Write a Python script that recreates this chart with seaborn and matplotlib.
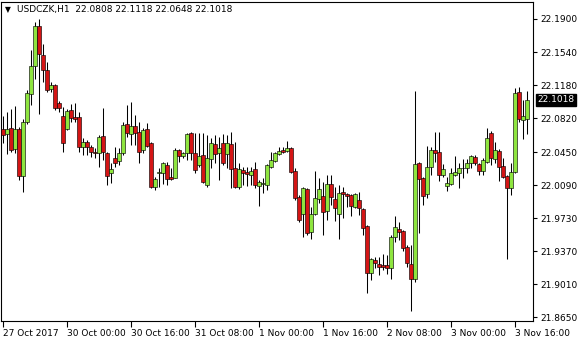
import numpy as np
import pandas as pd
import matplotlib
matplotlib.use("Agg")
import matplotlib.pyplot as plt
import matplotlib.transforms as mtrans
import seaborn as sns

symbol = "USDCZK,H1"

open_ = [22.0701, 22.0646, 22.0712, 22.0483, 22.0701, 22.0189, 22.0777, 22.1082, 22.1388, 22.1824,
         22.1508, 22.1344, 22.1137, 22.1181, 22.0984, 22.0843, 22.0701, 22.0908, 22.0832, 22.0832,
         22.0505, 22.0559, 22.0505, 22.0450, 22.0439, 22.0625, 22.0439, 22.0221, 22.0385, 22.0352,
         22.0439, 22.0755, 22.0646, 22.0734, 22.0668, 22.0472, 22.0701, 22.0548, 22.0069, 22.0221,
         22.0221, 22.0308, 22.0178, 22.0167, 22.0472, 22.0407, 22.0439, 22.0657, 22.0439, 22.0308,
         22.0417, 22.0091, 22.0374, 22.0537, 22.0439, 22.0548, 22.0428, 22.0537, 22.0276, 22.0069,
         22.0254, 22.0232, 22.0199, 22.0265, 22.0080, 22.0101, 22.0091, 22.0287, 22.0352, 22.0428,
         22.0472, 22.0461, 22.0494, 22.0243, 21.9960, 21.9774, 22.0047, 21.9578, 21.9774, 21.9938,
         21.9971, 21.9807, 22.0101, 21.9938, 21.9774, 22.0014, 21.9993, 21.9982, 21.9851, 21.9927,
         21.9829, 21.9644, 21.9131, 21.9273, 21.9229, 21.9218, 21.9218, 21.9186, 21.9524, 21.9611,
         21.9589, 21.9415, 21.9229, 21.9066, 22.0330, 22.0167, 21.9993, 22.0287, 22.0472, 22.0450,
         22.0199, 22.0080, 22.0101, 22.0199, 22.0221, 22.0276, 22.0276, 22.0330, 22.0396, 22.0319,
         22.0243, 22.0341, 22.0657, 22.0374, 22.0461, 22.0298, 22.0189, 22.0058, 22.0232, 22.1104,
         22.0799, 22.0808]
high = [22.0843, 22.0886, 22.0919, 22.0952, 22.0723, 22.0810, 22.1126, 22.1562, 22.1867, 22.1900,
        22.1627, 22.1431, 22.1213, 22.1191, 22.1006, 22.0941, 22.0919, 22.0973, 22.0984, 22.0886,
        22.0603, 22.0581, 22.0526, 22.0494, 22.0635, 22.0930, 22.0450, 22.0330, 22.0505, 22.0494,
        22.0777, 22.0962, 22.0995, 22.0854, 22.0777, 22.0712, 22.0766, 22.0559, 22.0178, 22.0276,
        22.0341, 22.0341, 22.0276, 22.0494, 22.0483, 22.0450, 22.0657, 22.0668, 22.0657, 22.0657,
        22.0657, 22.0635, 22.0603, 22.0635, 22.0614, 22.0646, 22.0635, 22.0668, 22.0559, 22.0330,
        22.0287, 22.0287, 22.0287, 22.0341, 22.0145, 22.0167, 22.0319, 22.0450, 22.0450, 22.0505,
        22.0505, 22.0570, 22.0505, 22.0276, 21.9982, 22.0069, 22.0058, 21.9851, 22.0243, 22.0167,
        22.0123, 22.0199, 22.0199, 22.0069, 22.0091, 22.0069, 22.0003, 21.9993, 22.0003, 22.0014,
        21.9840, 21.9655, 21.9295, 21.9306, 21.9306, 21.9338, 21.9327, 21.9546, 21.9753, 21.9687,
        21.9600, 21.9437, 21.9437, 22.1115, 22.0341, 22.0178, 22.0516, 22.0505, 22.0668, 22.0668,
        22.0319, 22.0178, 22.0276, 22.0407, 22.0330, 22.0374, 22.0374, 22.0417, 22.0417, 22.0330,
        22.0385, 22.0712, 22.0679, 22.0559, 22.0483, 22.0385, 22.0199, 22.0330, 22.1148, 22.1159,
        22.1017, 22.1118]
low = [22.0548, 22.0428, 22.0450, 22.0439, 22.0145, 22.0014, 22.0755, 22.0962, 22.1246, 22.0864,
       22.1213, 22.1104, 22.1104, 22.0908, 22.0886, 22.0450, 22.0690, 22.0777, 22.0777, 22.0450,
       22.0417, 22.0417, 22.0396, 22.0385, 22.0287, 22.0363, 22.0091, 22.0112, 22.0287, 22.0308,
       22.0417, 22.0614, 22.0526, 22.0526, 22.0330, 22.0439, 22.0505, 22.0058, 22.0036, 22.0069,
       22.0101, 22.0091, 22.0145, 22.0167, 22.0341, 22.0385, 22.0363, 22.0363, 22.0221, 22.0287,
       22.0112, 22.0069, 22.0276, 22.0330, 22.0145, 22.0308, 22.0276, 22.0058, 22.0058, 22.0047,
       22.0091, 22.0080, 22.0091, 22.0058, 21.9862, 22.0003, 22.0036, 22.0276, 22.0341, 22.0417,
       22.0439, 22.0450, 22.0221, 21.9927, 21.9687, 21.9524, 21.9546, 21.9502, 21.9764, 21.9894,
       21.9546, 21.9709, 21.9873, 21.9698, 21.9502, 21.9731, 21.9851, 21.9753, 21.9840, 21.9764,
       21.9546, 21.8913, 21.9055, 21.9186, 21.9109, 21.9164, 21.9120, 21.9066, 21.9469, 21.9491,
       21.9371, 21.9197, 21.8717, 21.9033, 21.9567, 21.9873, 21.9949, 22.0199, 22.0341, 22.0134,
       22.0178, 22.0025, 22.0091, 22.0189, 22.0058, 22.0167, 22.0221, 22.0276, 22.0308, 22.0199,
       22.0199, 22.0330, 22.0308, 22.0330, 22.0134, 22.0167, 21.9284, 21.9982, 22.0221, 22.0777,
       22.0592, 22.0648]
close = [22.0635, 22.0701, 22.0472, 22.0701, 22.0189, 22.0777, 22.1093, 22.1388, 22.1824, 22.1518,
         22.1344, 22.1126, 22.1181, 22.0930, 22.0930, 22.0548, 22.0897, 22.0821, 22.0810, 22.0505,
         22.0559, 22.0505, 22.0450, 22.0439, 22.0614, 22.0450, 22.0189, 22.0265, 22.0330, 22.0439,
         22.0744, 22.0657, 22.0734, 22.0657, 22.0450, 22.0690, 22.0516, 22.0069, 22.0156, 22.0232,
         22.0330, 22.0156, 22.0156, 22.0472, 22.0407, 22.0439, 22.0646, 22.0439, 22.0254, 22.0407,
         22.0123, 22.0385, 22.0548, 22.0428, 22.0494, 22.0330, 22.0548, 22.0265, 22.0069, 22.0265,
         22.0221, 22.0210, 22.0243, 22.0091, 22.0123, 22.0112, 22.0308, 22.0363, 22.0439, 22.0461,
         22.0450, 22.0494, 22.0232, 21.9949, 21.9709, 22.0058, 21.9567, 21.9774, 21.9949, 22.0047,
         21.9796, 22.0101, 21.9960, 21.9840, 22.0003, 21.9993, 21.9971, 21.9862, 21.9993, 21.9840,
         21.9622, 21.9131, 21.9284, 21.9240, 21.9197, 21.9197, 21.9186, 21.9524, 21.9633, 21.9578,
         21.9404, 21.9240, 21.9066, 22.0319, 22.0156, 21.9971, 22.0287, 22.0472, 22.0439, 22.0199,
         22.0265, 22.0112, 22.0221, 22.0232, 22.0276, 22.0280, 22.0330, 22.0407, 22.0330, 22.0243,
         22.0363, 22.0603, 22.0385, 22.0472, 22.0287, 22.0178, 22.0058, 22.0232, 22.1093, 22.0810,
         22.0843, 22.1018]

time_labels = ["27 Oct 2017", "30 Oct 00:00", "30 Oct 16:00", "31 Oct 08:00", "1 Nov 00:00",
               "1 Nov 16:00", "2 Nov 08:00", "3 Nov 00:00", "3 Nov 16:00"]
price_ticks = [22.1900, 22.1540, 22.1180, 22.0820, 22.0450, 22.0090, 21.9730, 21.9370, 21.9010, 21.8650]
bars_per_label = 16

sns.set_theme(style="white")
plt.rcParams["font.family"] = ["DejaVu Sans"]

df = pd.DataFrame({"open": open_, "high": high, "low": low, "close": close})
df["bar"] = np.arange(len(df))
df["up"] = df["close"] >= df["open"]
df["body_lo"] = df[["open", "close"]].min(axis=1)
df["body_h"] = (df["close"] - df["open"]).abs().clip(lower=0.0003)

W, H = 580, 340
fig = plt.figure(figsize=(W / 100, H / 100), dpi=100)
ax = fig.add_axes([1 / W, 19 / H, 532 / W, 319 / H])

bull, bear = "#8ee53f", "#d41515"
ax.vlines(df["bar"], df["low"], df["high"], color="black", linewidth=0.75, zorder=2)
ax.bar(df["bar"], df["body_h"], bottom=df["body_lo"], width=0.76,
       color=np.where(df["up"], bull, bear), edgecolor="black", linewidth=0.42, zorder=3)

ax.set_xlim(-0.5, 132.5)
ax.set_ylim(21.8608, 22.2085)

for s in ax.spines.values():
    s.set_color("black")
    s.set_linewidth(0.8)

ax.yaxis.tick_right()
ax.set_yticks(price_ticks)
ax.set_yticklabels([f"{v:.4f}" for v in price_ticks])
ax.tick_params(axis="y", which="both", direction="out", length=3, width=0.8,
               color="black", labelsize=6.5, pad=2, labelcolor="black", right=True, left=False)

xt = np.arange(len(time_labels)) * bars_per_label
ax.set_xticks(xt)
ax.set_xticklabels(time_labels)
for lab in ax.get_xticklabels():
    lab.set_horizontalalignment("left")
ax.tick_params(axis="x", direction="out", length=4, width=0.8, color="black",
               labelsize=6.5, pad=2, labelcolor="black", bottom=True)
ax.set_xlabel("")
ax.set_ylabel("")

last = df.iloc[-1]
ax.text(0.008, 0.975, "\u25bc", transform=ax.transAxes, fontsize=5.5, va="center", ha="left", color="black")
ax.text(0.031, 0.975,
        f"{symbol}  {last['open']:.4f} {last['high']:.4f} {last['low']:.4f} {last['close']:.4f}",
        transform=ax.transAxes, fontsize=6.5, va="center", ha="left", color="black")

trans = mtrans.blended_transform_factory(ax.transAxes, ax.transData)
ax.text(1.0085, last["close"], f"{last['close']:.4f}", transform=trans, fontsize=6.5,
        va="center", ha="left", color="white",
        bbox=dict(boxstyle="square,pad=0.2", fc="black", ec="black"))

fig.savefig("out.png", dpi=100, facecolor="white")
